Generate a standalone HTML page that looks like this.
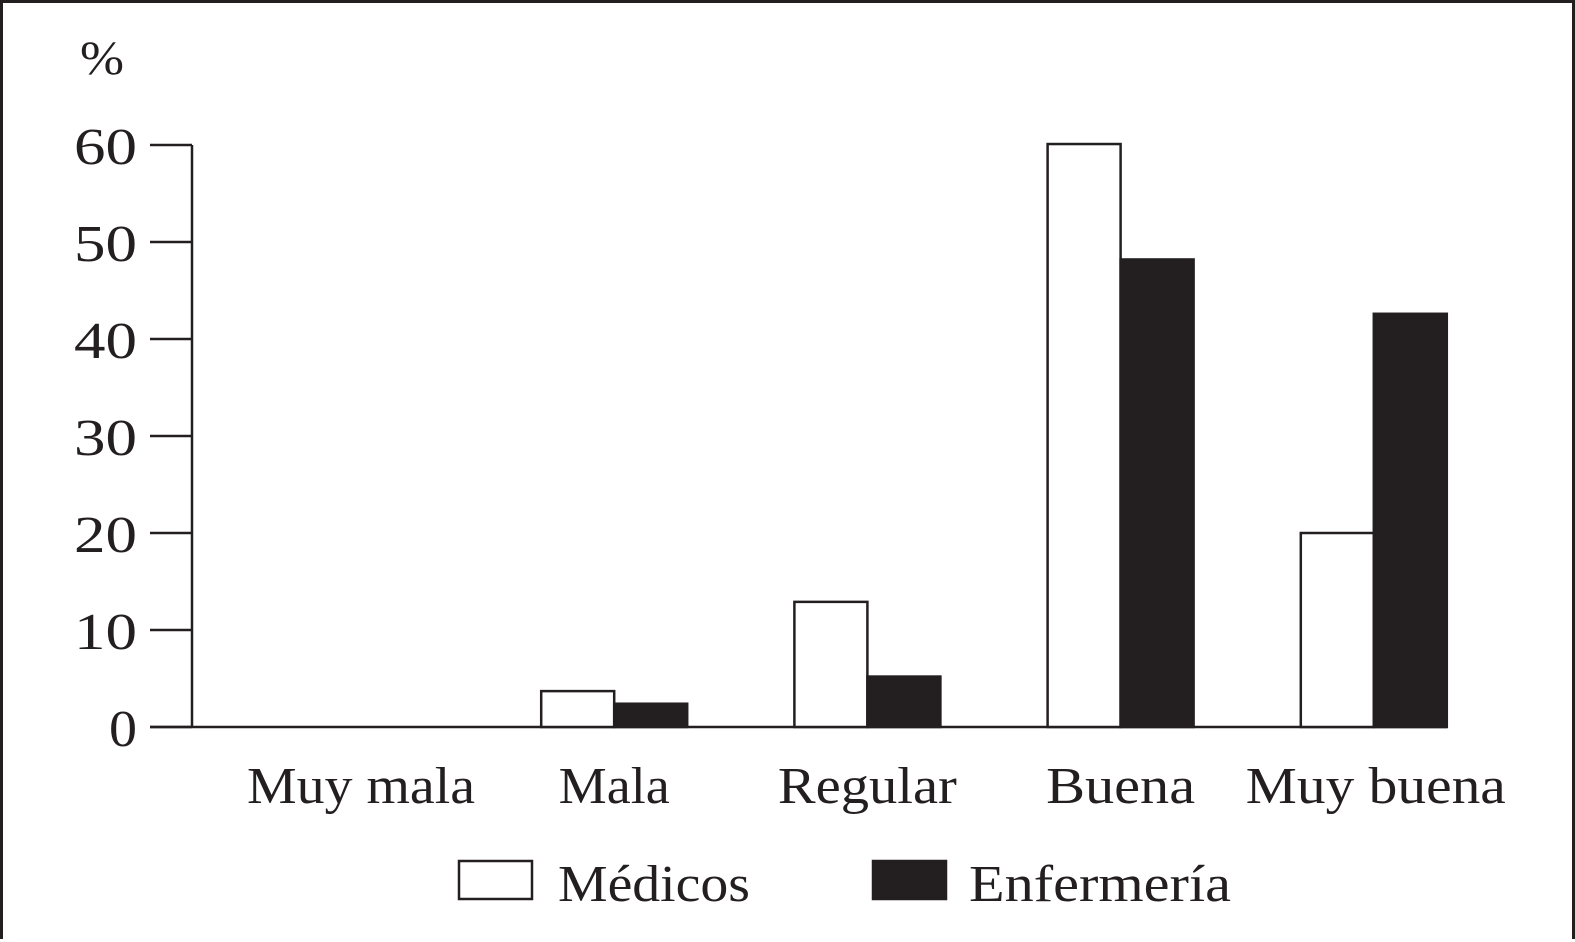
<!DOCTYPE html>
<html><head><meta charset="utf-8"><style>
html,body{margin:0;padding:0;background:#fff}
#wrap{position:relative;width:1575px;height:939px;box-sizing:border-box;border:3px solid #231f20;border-bottom:none}
svg{position:absolute;left:0;top:0}
text{font-family:"Liberation Serif",serif;fill:#231f20}
</style></head><body>
<div id="wrap">
<svg id="chart" width="1575" height="939"></svg>
</div>
<script>
const categories=["Muy mala","Mala","Regular","Buena","Muy buena"];
const medicos=[0,3.7,12.9,60.1,20];
const enfermeria=[0,2.4,5.2,48.2,42.6];
const yTicks=[0,10,20,30,40,50,60];
const seriesNames=["Médicos","Enfermería"];
const catWidths=[228,111,179,149,260];

const NS="http://www.w3.org/2000/svg";
const svg=document.getElementById('chart');
const y0=724,yScale=(724-142)/60;
const y=v=>y0-v*yScale;
const cx=i=>358+i*253.2;
const bw=73;
function el(tag,attrs,parent){const e=document.createElementNS(NS,tag);for(const k in attrs)e.setAttribute(k,attrs[k]);(parent||svg).appendChild(e);return e;}

const pct=el('text',{x:77,y:71,'font-size':48,textLength:44,lengthAdjust:'spacingAndGlyphs'});
pct.textContent='%';



const yAxis=el('line',{x1:189,y1:y(60),x2:189,y2:y0,stroke:'#231f20','stroke-width':2.5});


const xAxis=el('line',{x1:147,y1:y0,x2:1444,y2:y0,stroke:'#231f20','stroke-width':2.5});



yTicks.forEach(t=>{
  const tk=el('line',{x1:147,y1:y(t),x2:189,y2:y(t),stroke:'#231f20','stroke-width':2.5});
  
  
  const s=String(t);
  const w=s.length>1?63:28;
  const lb=el('text',{x:134-w,y:y(t)+19,'font-size':52,textLength:w,lengthAdjust:'spacingAndGlyphs'});
  lb.textContent=s;
  
  
});

categories.forEach((c,i)=>{
  const m=medicos[i],e=enfermeria[i];
  if(m>0){
    const r=el('rect',{x:cx(i)-bw,y:y(m),width:bw,height:y0-y(m),fill:'#fff',stroke:'#231f20','stroke-width':2.5});
    
    
  }
  if(e>0){
    const r=el('rect',{x:cx(i),y:y(e),width:bw,height:y0-y(e),fill:'#231f20',stroke:'#231f20','stroke-width':2.5});
    
    
  }
  const w=catWidths[i];
  const lb=el('text',{x:cx(i)-w/2+(i==4?2:0),y:800,'font-size':52,textLength:w,lengthAdjust:'spacingAndGlyphs'});
  lb.textContent=c;
  
  
});

const lg=[{x:456,fill:'#fff',tx:555,w:192},{x:870,fill:'#231f20',tx:966,w:262}];
lg.forEach((l,i)=>{
  const r=el('rect',{x:l.x,y:858,width:73,height:38,fill:l.fill,stroke:'#231f20','stroke-width':2.5});
  
  
  const t=el('text',{x:l.tx,y:898,'font-size':52,textLength:l.w,lengthAdjust:'spacingAndGlyphs'});
  t.textContent=seriesNames[i];
  
  
});
</script>
</body></html>
